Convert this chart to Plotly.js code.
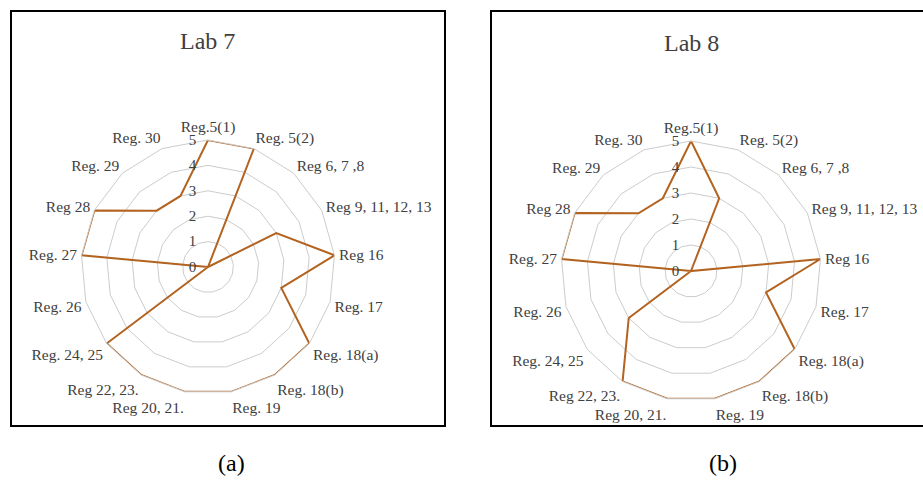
<!DOCTYPE html>
<html>
<head>
<meta charset="utf-8">
<script src="https://cdn.plot.ly/plotly-3.0.1.min.js"></script>
<style>html,body{margin:0;padding:0;background:#fff;}#chart{width:923px;height:482px;}</style>
</head>
<body>
<div id="chart"></div>
<script>
const categories = ["Reg.5(1)", "Reg. 5(2)", "Reg 6, 7 ,8", "Reg 9, 11, 12, 13", "Reg 16", "Reg. 17", "Reg. 18(a)", "Reg. 18(b)", "Reg. 19", "Reg 20, 21.", "Reg 22, 23.", "Reg. 24, 25", "Reg. 26", "Reg. 27", "Reg 28", "Reg. 29", "Reg. 30"];
const lab7 = [5, 5, 0, 3, 5, 3, 5, 5, 5, 5, 5, 5, 0, 5, 5, 3, 3];
const lab8 = [5, 3, 0, 0, 5, 3, 5, 5, 5, 5, 5, 3, 0, 5, 5, 3, 3];
const titles = ["Lab 7", "Lab 8"];
const captions = ["(a)", "(b)"];
const radialTicks = [0, 1, 2, 3, 4, 5];

const W = 923, H = 482;
const lineColor = "#b3631f";
const textColor = "#404040";
const serif = "Liberation Serif, Times New Roman, serif";

function closed(a) { return a.concat([a[0]]); }

const traces = [
  {type: "scatterpolar", subplot: "polar", r: closed(lab7), theta: closed(categories), mode: "lines",
   line: {color: lineColor, width: 2}, hoverinfo: "skip", showlegend: false},
  {type: "scatterpolar", subplot: "polar2", r: closed(lab8), theta: closed(categories), mode: "lines",
   line: {color: lineColor, width: 2}, hoverinfo: "skip", showlegend: false}
];

function dom(cx, cy, r) {
  return {x: [(cx - r) / W, (cx + r) / W], y: [(H - cy - r) / H, (H - cy + r) / H]};
}

function polarCfg(d) {
  return {
    domain: d,
    gridshape: "linear",
    bgcolor: "rgba(0,0,0,0)",
    angularaxis: {
      type: "category", categoryorder: "array", categoryarray: categories,
      direction: "clockwise", rotation: 90,
      showgrid: false, showline: true, linecolor: "#cccccc", linewidth: 1,
      ticks: "outside", ticklen: 1, tickcolor: "rgba(0,0,0,0)",
      tickfont: {family: serif, size: 15.5, color: textColor}
    },
    radialaxis: {
      range: [0, 5], angle: 90, tickangle: 90, side: "counterclockwise",
      tickvals: radialTicks, ticktext: radialTicks.map(String),
      showline: false, ticks: "outside", ticklen: 6, tickcolor: "rgba(0,0,0,0)",
      showgrid: true, gridcolor: "#cccccc", gridwidth: 1,
      tickfont: {family: serif, size: 15, color: textColor}
    }
  };
}

const layout = {
  width: W, height: H,
  margin: {l: 0, r: 0, t: 0, b: 0},
  paper_bgcolor: "#fff", plot_bgcolor: "#fff",
  font: {family: serif},
  showlegend: false,
  polar: polarCfg(dom(208, 267, 127)),
  polar2: polarCfg(dom(691, 271, 130)),
  shapes: [
    {type: "rect", xref: "paper", yref: "paper", x0: 11 / W, x1: 445 / W, y0: (H - 426) / H, y1: (H - 11) / H,
     line: {color: "#000", width: 2}},
    {type: "rect", xref: "paper", yref: "paper", x0: 491 / W, x1: 930 / W, y0: (H - 426) / H, y1: (H - 11) / H,
     line: {color: "#000", width: 2}}
  ],
  annotations: [
    {xref: "paper", yref: "paper", x: 207 / W, y: (H - 41) / H, text: titles[0], showarrow: false,
     font: {family: serif, size: 24, color: textColor}, xanchor: "center", yanchor: "middle"},
    {xref: "paper", yref: "paper", x: 691 / W, y: (H - 43) / H, text: titles[1], showarrow: false,
     font: {family: serif, size: 24, color: textColor}, xanchor: "center", yanchor: "middle"},
    {xref: "paper", yref: "paper", x: 232 / W, y: (H - 463) / H, text: captions[0], showarrow: false,
     font: {family: serif, size: 24, color: "#000"}, xanchor: "center", yanchor: "middle"},
    {xref: "paper", yref: "paper", x: 723 / W, y: (H - 463) / H, text: captions[1], showarrow: false,
     font: {family: serif, size: 24, color: "#000"}, xanchor: "center", yanchor: "middle"}
  ]
};

Plotly.newPlot("chart", traces, layout, {staticPlot: true, displayModeBar: false});
</script>
</body>
</html>
